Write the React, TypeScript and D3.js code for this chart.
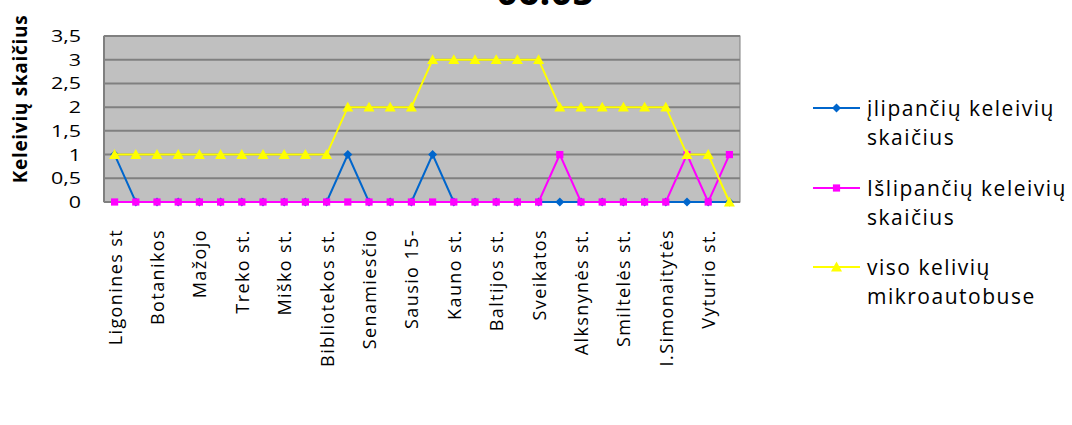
import React from "react";
import * as d3 from "d3";

const tickLabels = [
  "Ligonines st", "Botanikos", "Mažojo", "Treko st.", "Miško st.",
  "Bibliotekos st.", "Senamiesčio", "Sausio 15-", "Kauno st.", "Baltijos st.",
  "Sveikatos", "Alksnynės st.", "Smiltelės st.", "I.Simonaitytės", "Vyturio st.",
];
const boarding = [1,0,0,0,0,0,0,0,0,0,0,1,0,0,0,1,0,0,0,0,0,0,0,0,0,0,0,0,0,0];
const alighting = [0,0,0,0,0,0,0,0,0,0,0,0,0,0,0,0,0,0,0,0,0,1,0,0,0,0,0,1,0,1];
const onboard = [1,1,1,1,1,1,1,1,1,1,1,2,2,2,2,3,3,3,3,3,3,2,2,2,2,2,2,1,1,0];
const yTicks = [0, 0.5, 1, 1.5, 2, 2.5, 3, 3.5];
const seriesNames = [
  ["įlipančių keleivių", "skaičius"],
  ["Išlipančių keleivių", "skaičius"],
  ["viso kelivių", "mikroautobuse"],
];
const title = "06:05";

const W = 1072, H = 425;
const L = 104, R = 740, T = 36, B = 202;
const FONT = "'Open Sans', 'Noto Sans', sans-serif";

function Marker({ kind, x, y, color }: { kind: string; x: number; y: number; color: string }) {
  if (kind === "diamond") {
    const s = 4.5;
    return <path d={`M${x},${y - s}L${x + s},${y}L${x},${y + s}L${x - s},${y}Z`} fill={color} />;
  }
  if (kind === "square") {
    const s = 3.6;
    return <rect x={x - s} y={y - s} width={2 * s} height={2 * s} fill={color} />;
  }
  const s = 5.5;
  return <path d={`M${x},${y - s}L${x + s},${y + s * 0.8}L${x - s},${y + s * 0.8}Z`} fill={color} />;
}

export default function App() {
  const idx = d3.range(onboard.length);
  const x = d3.scaleBand<number>().domain(idx).range([L, R]);
  const cx = (i: number) => (x(i) as number) + x.bandwidth() / 2;
  const y = d3.scaleLinear().domain([0, 3.5]).range([B, T]);
  const line = d3.line<number>().x((_, i) => cx(i)).y((d) => y(d));
  const fmt = (v: number) => String(v).replace(".", ",");

  const series = [
    { data: boarding, color: "#0066CC", kind: "diamond" },
    { data: alighting, color: "#FF00FF", kind: "square" },
    { data: onboard, color: "#FFFF00", kind: "triangle" },
  ];
  const legendY = [108, 188, 267];

  return (
    <svg width={W} height={H} style={{ position: "absolute", left: 0, top: 0, background: "#fff" }}>
      <text x={545} y={5} textAnchor="middle" fontFamily={FONT} fontWeight="bold" fontSize={38}>{title}</text>
      <rect x={L} y={T} width={R - L} height={B - T} fill="#C0C0C0" stroke="#808080" strokeWidth={1} />
      {yTicks.map((t) => (
        <line key={t} x1={L} x2={R} y1={y(t)} y2={y(t)} stroke="#808080" strokeWidth={2} />
      ))}
      <line x1={L} x2={L} y1={T} y2={B} stroke="#808080" strokeWidth={2} />
      {yTicks.map((t) => (
        <text key={t} transform={`translate(81,${y(t)}) scale(1.3,1)`} dy="0.36em" textAnchor="end" fontFamily={FONT} fontSize={16.5}>{fmt(t)}</text>
      ))}
      <text transform={`translate(27,99) rotate(-90)`} textAnchor="middle" fontFamily={FONT} fontWeight="bold" fontSize={19} letterSpacing={0.7}>Keleivių skaičius</text>
      {tickLabels.map((lab, k) => (
        <text key={lab} transform={`translate(${cx(k * 2) + 7},229) rotate(-90)`} textAnchor="end" fontFamily={FONT} fontSize={18} letterSpacing={1.4}>{lab}</text>
      ))}
      {series.map((s) => (
        <g key={s.color}>
          <path d={line(s.data) as string} fill="none" stroke={s.color} strokeWidth={2} />
          {s.data.map((v, i) => (
            <Marker key={i} kind={s.kind} x={cx(i)} y={y(v)} color={s.color} />
          ))}
        </g>
      ))}
      {series.map((s, k) => (
        <g key={k}>
          <line x1={813} x2={860} y1={legendY[k]} y2={legendY[k]} stroke={s.color} strokeWidth={2} />
          <Marker kind={s.kind} x={836.5} y={legendY[k]} color={s.color} />
          <text x={867} y={legendY[k] + 7.5} fontFamily={FONT} fontSize={21} letterSpacing={1.5}>
            <tspan x={867}>{seriesNames[k][0]}</tspan>
            <tspan x={867} dy={29.5}>{seriesNames[k][1]}</tspan>
          </text>
        </g>
      ))}
    </svg>
  );
}
